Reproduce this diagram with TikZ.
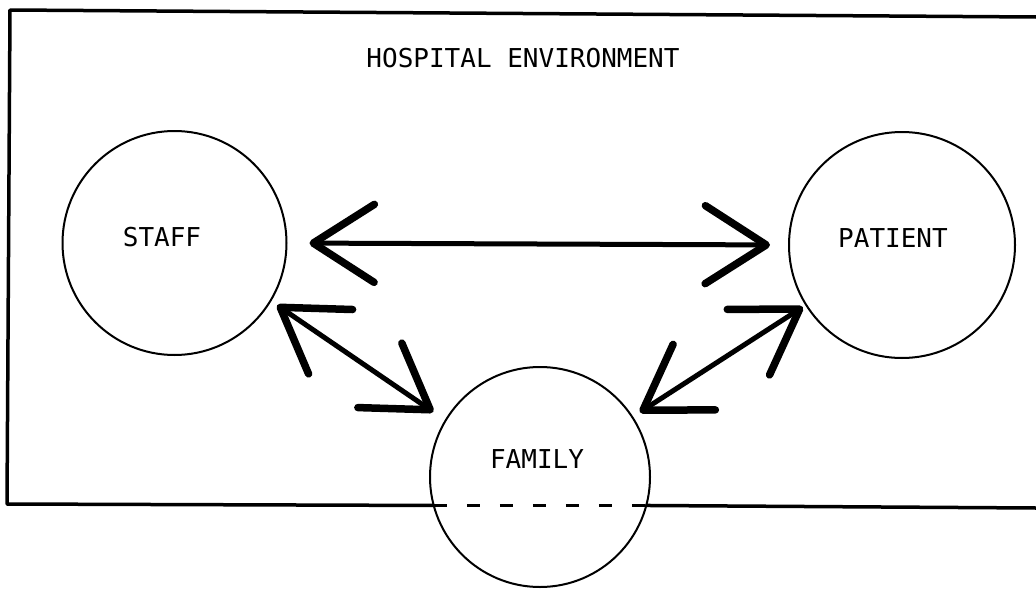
\documentclass[tikz,border=0pt]{standalone}
\usepackage{fontspec}
\newfontfamily\monolbl{DejaVu Sans Mono}
\usetikzlibrary{arrows.meta}
\begin{document}
\begin{tikzpicture}[x=1pt,y=-1pt,
  lbl/.style={font=\monolbl\fontsize{26}{30}\selectfont, inner sep=0pt},
  party/.style={circle, draw, line width=2pt, inner sep=0pt, outer sep=0pt},
  frame/.style={line width=3.5pt, line cap=round, line join=round},
  barb/.tip={Straight Barb[length=61pt,width=78pt,line width=7.5pt,round]},
  link/.style={line width=5pt, barb-barb},
]
\useasboundingbox (0,0) rectangle (1036,589);

% circles
\node[party, minimum size=224pt] (staff) at (174.5,243) {};
\node[party, minimum size=226pt] (patient) at (902,245) {};
\node[party, minimum size=220pt] (family) at (540,477) {};

% labels
\node[lbl] (title) at (523,58) {HOSPITAL ENVIRONMENT};
\node[lbl] (stafflbl) at (162,237) {STAFF};
\node[lbl] (patientlbl) at (893,238) {PATIENT};
\node[lbl] (familylbl) at (537,459) {FAMILY};

% frame
\coordinate (tl) at (10,10);
\coordinate (tr) at (1036,17);
\coordinate (bl) at (7,504);
\coordinate (br) at (1036,508);
\draw[frame] (tr) -- (tl) -- (bl) -- (family.195);
\draw[frame] (family.-15) -- (br);
\draw[line width=3pt, dash pattern=on 13pt off 20pt] (family.195) -- (family.-15);

% connectors
\draw[link, shorten <=23pt, shorten >=19pt] (staff.0) -- (patient.180);
\draw[link, shorten <=8pt, shorten >=15pt] (staff.-31) -- (family.149);
\draw[link, shorten <=9pt, shorten >=4pt] (family.33) -- (patient.212);
\end{tikzpicture}
\end{document}
